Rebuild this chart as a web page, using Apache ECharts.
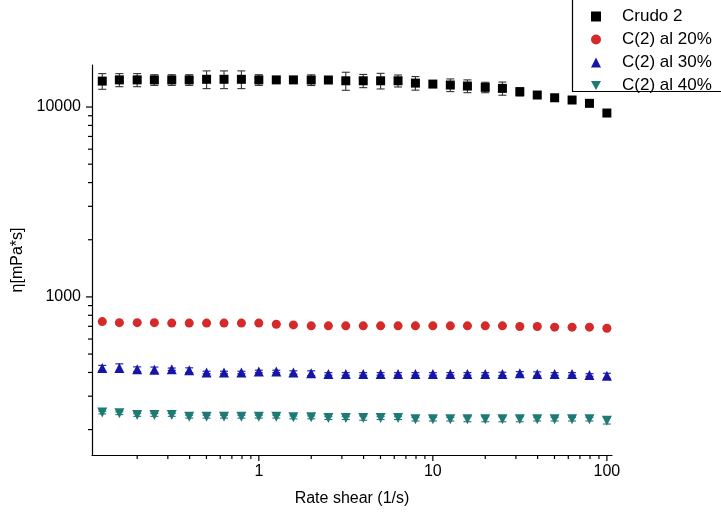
<!DOCTYPE html>
<html><head><meta charset="utf-8">
<script src="https://cdn.jsdelivr.net/npm/echarts@6/dist/echarts.min.js"></script>
<style>html,body{margin:0;padding:0;background:#fff}#c{width:721px;height:519px}</style>
</head><body><div id="c"></div>
<script>
// ---- data ----
const shearRate = [0.126, 0.158, 0.2, 0.251, 0.316, 0.398, 0.501, 0.631, 0.794, 1,
  1.26, 1.58, 2, 2.51, 3.16, 3.98, 5.01, 6.31, 7.94, 10,
  12.6, 15.8, 20, 25.1, 31.6, 39.8, 50.1, 63.1, 79.4, 100];
const crudo2 = [13700, 13900, 13900, 13900, 13900, 13900, 14000, 14000, 14000, 13900,
  13900, 13900, 13880, 13880, 13750, 13750, 13750, 13750, 13370, 13210,
  13060, 12900, 12700, 12540, 12040, 11570, 11190, 10890, 10460, 9300];
const crudo2Err = [1300, 1100, 1100, 900, 900, 900, 1500, 1500, 1500, 900,
  400, 400, 900, 400, 1500, 1100, 1300, 1000, 1100, 500,
  1000, 1000, 800, 1000, 600, 300, 200, 200, 200, 200];
const c20 = [741, 732, 732, 732, 728, 728, 728, 728, 728, 728,
  718, 712, 704, 704, 704, 704, 704, 704, 704, 704,
  704, 704, 704, 704, 698, 698, 693, 693, 693, 684];
const c20Err = [5, 5, 5, 5, 5, 5, 5, 5, 5, 5, 5, 5, 5, 5, 5, 5, 5, 5, 5, 5, 5, 5, 5, 5, 5, 5, 5, 5, 5, 5];
const c30 = [422, 422, 416, 413, 416, 411, 400, 400, 400, 405,
  405, 400, 396, 393, 393, 393, 393, 393, 393, 393,
  393, 393, 393, 393, 396, 393, 393, 393, 388, 384];
const c30Err = [14, 22, 12, 14, 6, 12, 6, 6, 6, 6, 6, 8, 12, 6, 6, 6, 6, 6, 6, 6, 6, 6, 6, 8, 8, 10, 6, 6, 6, 12];
const c40 = [246, 244, 239, 239, 239, 234, 234, 234, 234, 234,
  234, 232, 232, 230, 230, 230, 230, 230, 227, 227,
  227, 227, 227, 227, 227, 227, 227, 227, 227, 223];
const c40Err = [4, 4, 4, 4, 4, 4, 4, 4, 4, 4, 4, 4, 4, 4, 4, 6, 4, 4, 5, 5, 5, 7, 7, 7, 7, 5, 5, 5, 5, 9];
const seriesNames = ['Crudo 2', 'C(2) al 20%', 'C(2) al 30%', 'C(2) al 40%'];
const X_MIN = 0.11, X_MAX = 107, Y_MIN = 147, Y_MAX = 16650;
const xMajorTicks = [1, 10, 100];
const xMinorTicks = [0.2, 0.3, 0.4, 0.5, 0.6, 0.7, 0.8, 0.9, 2, 3, 4, 5, 6, 7, 8, 9, 20, 30, 40, 50, 60, 70, 80, 90];
const yMajorTicks = [1000, 10000];
const yMinorTicks = [200, 300, 400, 500, 600, 700, 800, 900, 2000, 3000, 4000, 5000, 6000, 7000, 8000, 9000];

// ---- chart ----
const FONT = '"Liberation Sans", Arial, sans-serif';
const colors = ['#000000', '#d42a2a', '#1515aa', '#1f7a75'];

function pts(vals) { return shearRate.map((x, i) => [x, vals[i]]); }
function errSeries(vals, errs, color) {
  return {
    type: 'custom', silent: true, z: 1,
    data: shearRate.map((x, i) => [x, vals[i] - errs[i], vals[i] + errs[i]]),
    encode: { x: 0, y: [1, 2] },
    renderItem: (params, api) => {
      const x = api.value(0);
      const p1 = api.coord([x, api.value(1)]);
      const p2 = api.coord([x, api.value(2)]);
      const st = { stroke: color, lineWidth: 1.1 };
      return { type: 'group', children: [
        { type: 'line', shape: { x1: p1[0], y1: p1[1], x2: p2[0], y2: p2[1] }, style: st },
        { type: 'line', shape: { x1: p1[0] - 4, y1: p1[1], x2: p1[0] + 4, y2: p1[1] }, style: st },
        { type: 'line', shape: { x1: p2[0] - 4, y1: p2[1], x2: p2[0] + 4, y2: p2[1] }, style: st }
      ] };
    }
  };
}
function tickSeries(values, isX, len) {
  return {
    type: 'custom', silent: true, z: 5,
    data: values.map(v => isX ? [v, Y_MIN] : [X_MIN, v]),
    encode: { x: 0, y: 1 },
    renderItem: (params, api) => {
      const p = api.coord([api.value(0), api.value(1)]);
      const shape = isX ? { x1: p[0], y1: p[1], x2: p[0], y2: p[1] + len }
                        : { x1: p[0], y1: p[1], x2: p[0] - len, y2: p[1] };
      return { type: 'line', shape: shape, style: { stroke: '#000', lineWidth: 1.2 } };
    }
  };
}
function pow10Label(v) {
  const l = Math.log10(v);
  return Math.abs(l - Math.round(l)) < 1e-6 ? String(Math.round(v)) : '';
}

const chart = echarts.init(document.getElementById('c'), null, { renderer: 'canvas' });
chart.setOption({
  animation: false,
  backgroundColor: '#ffffff',
  grid: { left: 92, right: 109, top: 65, bottom: 64, containLabel: false },
  xAxis: {
    type: 'log', logBase: 10, min: X_MIN, max: X_MAX,
    name: 'Rate shear (1/s)', nameLocation: 'middle', nameGap: 36,
    nameTextStyle: { fontSize: 16, fontFamily: FONT, color: '#000' },
    axisLine: { show: true, lineStyle: { color: '#000', width: 1.2 } },
    axisTick: { show: false }, splitLine: { show: false },
    axisLabel: { margin: 9, fontSize: 16, fontFamily: FONT, color: '#000', formatter: pow10Label, showMinLabel: false, showMaxLabel: false }
  },
  yAxis: {
    type: 'log', logBase: 10, min: Y_MIN, max: Y_MAX,
    name: 'η[mPa*s]', nameLocation: 'middle', nameGap: 58,
    nameTextStyle: { fontSize: 16, fontFamily: FONT, color: '#000' },
    axisLine: { show: true, lineStyle: { color: '#000', width: 1.2 } },
    axisTick: { show: false }, splitLine: { show: false },
    axisLabel: { margin: 11, fontSize: 16, fontFamily: FONT, color: '#000', formatter: pow10Label, showMinLabel: false, showMaxLabel: false }
  },
  legend: {
    orient: 'vertical', left: 586, top: 3, itemWidth: 10, itemHeight: 10, itemGap: 6,
    textStyle: { fontSize: 17, fontFamily: FONT, color: '#000', lineHeight: 17, padding: [0, 0, 0, 16] },
    data: seriesNames
  },
  graphic: [
    { type: 'line', shape: { x1: 572.5, y1: 0, x2: 572.5, y2: 91.5 }, style: { stroke: '#000', lineWidth: 1.2 }, z: 10 },
    { type: 'line', shape: { x1: 572, y1: 91.5, x2: 721, y2: 91.5 }, style: { stroke: '#000', lineWidth: 1.2 }, z: 10 }
  ],
  series: [
    errSeries(crudo2, crudo2Err, '#333333'),
    errSeries(c20, c20Err, colors[1]),
    errSeries(c30, c30Err, colors[2]),
    errSeries(c40, c40Err, colors[3]),
    { name: seriesNames[0], type: 'scatter', data: pts(crudo2), symbol: 'rect', symbolSize: 9, itemStyle: { color: colors[0], opacity: 1 }, z: 3 },
    { name: seriesNames[1], type: 'scatter', data: pts(c20), symbol: 'circle', symbolSize: 9, itemStyle: { color: colors[1], opacity: 1 }, z: 3 },
    { name: seriesNames[2], type: 'scatter', data: pts(c30), symbol: 'triangle', symbolSize: 10, itemStyle: { color: colors[2], opacity: 1 }, z: 3 },
    { name: seriesNames[3], type: 'scatter', data: pts(c40), symbol: 'path://M0,0 L10,0 L5,9 Z', symbolSize: 10, itemStyle: { color: colors[3], opacity: 1 }, z: 3 },
    tickSeries(xMajorTicks, true, 6),
    tickSeries(xMinorTicks, true, 4),
    tickSeries(yMajorTicks, false, 6),
    tickSeries(yMinorTicks, false, 4)
  ]
});
</script></body></html>
